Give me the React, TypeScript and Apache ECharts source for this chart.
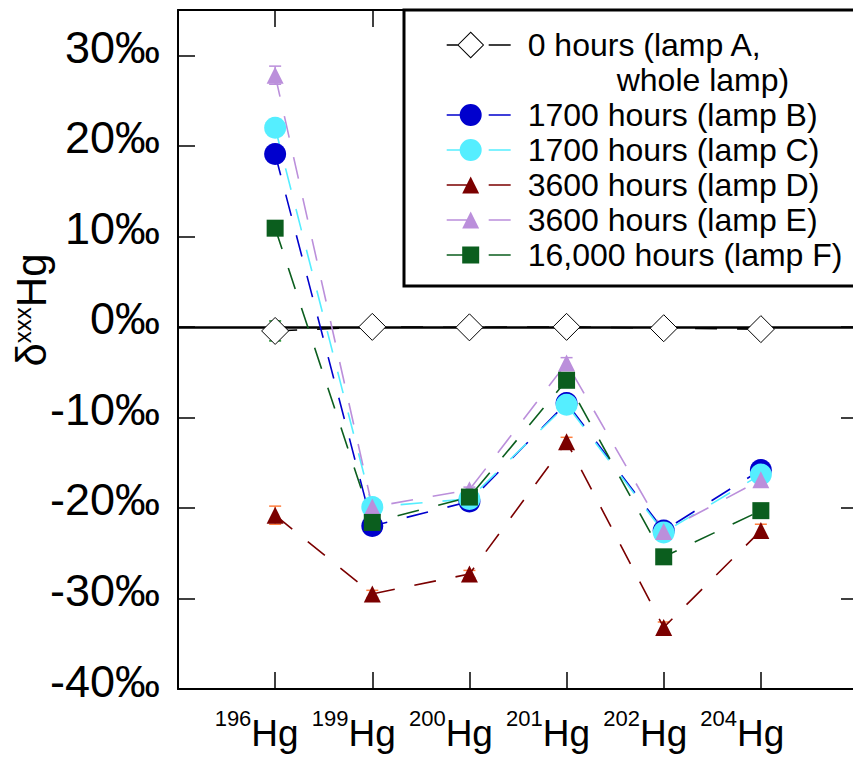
import React, { useEffect, useRef } from 'react';
import * as echarts from 'echarts';

// ---- data ----
const isotopes = ['196', '199', '200', '201', '202', '204'];
const yTicks = [-40, -30, -20, -10, 0, 10, 20, 30];
const seriesNames = [
  '0 hours (lamp A, whole lamp)',
  '1700 hours (lamp B)',
  '1700 hours (lamp C)',
  '3600 hours (lamp D)',
  '3600 hours (lamp E)',
  '16,000 hours (lamp F)',
];
const legendSecondLine = 'whole lamp)';
const lampA = [-0.45, 0.0, -0.05, 0.0, -0.15, -0.25];
const errA = [1.1, 0.15, 0.35, 0.4, 0.5, 0.7];
const lampB = [19.1, -22.0, -19.3, -8.4, -22.5, -15.8];
const lampC = [22.0, -19.9, -19.0, -8.6, -22.7, -16.3];
const lampD = [-20.8, -29.5, -27.3, -12.7, -33.2, -22.5];
const errD = [1.0, 0.4, 0.4, 0.5, 0.6, 0.7];
const lampE = [27.8, -19.9, -18.0, -4.0, -22.6, -16.9];
const errE = [1.0, 0.3, 0.3, 0.6, 0.3, 0.3];
const lampF = [10.9, -21.6, -18.8, -5.9, -25.4, -20.3];

const FONT = '"Liberation Sans", Arial, sans-serif';
const C_A = '#000000';
const C_B = '#0000CD';
const C_C = '#55EEFF';
const C_D = '#7B0000';
const C_E = '#BB8FDB';
const C_F = '#0B5E1E';
const C_ERR_A = '#118822';
const C_ERR_D = '#FF7F3F';

const positions = isotopes.map((_, i) => i + 1);
const pts = (vals: number[]) => vals.map((v, i) => [positions[i], v]);

// legend icons (76 x 28 box)
const BOX = 'M0 0L0 0.01M76 28L76 28.01';
const RDASH = 'M42 13.2H64V14.8H42Z';
const iconDiamond = 'path://' + BOX + 'M0 13.2H11V14.8H0Z' + RDASH +
  'M24 0.5L37.5 14L24 27.5L10.5 14Z M24 1.9L11.9 14L24 26.1L36.1 14Z';
const iconCircle = 'path://' + BOX + 'M0 13.2H13.5V14.8H0Z' + RDASH +
  'M13 14A11 11 0 1 1 35 14A11 11 0 1 1 13 14Z';
const iconTriangle = 'path://' + BOX + 'M0 13.2H20V14.8H0Z' + RDASH +
  'M24 5.5L32.5 22.5L15.5 22.5Z';
const iconSquare = 'path://' + BOX + 'M0 13.2H16V14.8H0Z' + RDASH +
  'M15.5 5.5H32.5V22.5H15.5Z';
const iconNone = 'path://' + BOX;

function lineSeries(name: string, vals: number[], color: string, symbol: string, size: number, extra: any = {}) {
  return {
    name,
    type: 'line',
    data: pts(vals),
    symbol,
    symbolSize: size,
    lineStyle: { color, width: 1.6, type: [22, 20] },
    itemStyle: { color, opacity: 1 },
    emphasis: { disabled: true },
    silent: true,
    ...extra,
  };
}

function errSeries(vals: number[], errs: number[], color: string, z: number) {
  return {
    type: 'custom',
    silent: true,
    z,
    data: vals.map((v, i) => [positions[i], v, errs[i]]),
    encode: { x: 0, y: 1 },
    renderItem: (_params: any, api: any) => {
      const x = api.value(0);
      const y = api.value(1);
      const e = api.value(2);
      const top = api.coord([x, y + e]);
      const bot = api.coord([x, y - e]);
      const hw = 6;
      const st = { stroke: color, lineWidth: 1.5 };
      return {
        type: 'group',
        children: [
          { type: 'line', shape: { x1: top[0], y1: top[1], x2: bot[0], y2: bot[1] }, style: st },
          { type: 'line', shape: { x1: top[0] - hw, y1: top[1], x2: top[0] + hw, y2: top[1] }, style: st },
          { type: 'line', shape: { x1: bot[0] - hw, y1: bot[1], x2: bot[0] + hw, y2: bot[1] }, style: st },
        ],
      };
    },
  };
}

const axisLineStyle = { show: true, onZero: false, lineStyle: { color: '#000', width: 2 } };
const axisTickStyle = { show: true, inside: true, length: 17, lineStyle: { color: '#000', width: 1.5 } };

export default function App() {
  const ref = useRef<HTMLDivElement>(null);
  useEffect(() => {
    if (!ref.current) return;
    const chart = echarts.init(ref.current, undefined, { renderer: 'svg' });
    const option: any = {
      animation: false,
      backgroundColor: '#ffffff',
      grid: { left: 178, top: 10, width: 680, height: 679, outerBoundsMode: 'none', containLabel: false },
      xAxis: [
        {
          type: 'value', min: 0, max: 7, interval: 1, position: 'bottom',
          axisLine: axisLineStyle, axisTick: axisTickStyle, splitLine: { show: false },
          axisLabel: {
            margin: 18,
            color: '#000',
            fontFamily: FONT,
            formatter: (v: number) => {
              const i = positions.indexOf(v);
              return i < 0 ? '' : `{s|${isotopes[i]}}{h|Hg}{p| }`;
            },
            rich: {
              s: { fontSize: 22, fontFamily: FONT, color: '#000', padding: [0, 0, 31, 0] },
              h: { fontSize: 37, fontFamily: FONT, color: '#000' },
              p: { fontSize: 22, width: 37 },
            },
          },
        },
        {
          type: 'value', min: 0, max: 7, interval: 1, position: 'top',
          axisLine: axisLineStyle, axisTick: axisTickStyle, splitLine: { show: false },
          axisLabel: { show: false },
        },
      ],
      yAxis: [
        {
          type: 'value', min: -40, max: 35, interval: 10, position: 'left',
          axisLine: axisLineStyle, axisTick: axisTickStyle, splitLine: { show: false },
          axisLabel: {
            fontSize: 45, fontFamily: FONT, color: '#000', margin: 18,
            verticalAlign: 'bottom', lineHeight: 16,
            formatter: (v: number) => (yTicks.indexOf(v) >= 0 ? `${v}‰` : ''),
          },
          name: '{d|δ}{x|xxx}{h|Hg}',
          nameLocation: 'middle',
          nameRotate: 90,
          nameGap: 126,
          nameMoveOverlap: false,
          nameTextStyle: {
            fontSize: 42,
            fontFamily: FONT,
            color: '#000',
            rich: {
              d: { fontSize: 42, fontFamily: FONT, color: '#000', padding: [0, 0, 0, 79] },
              x: { fontSize: 24, fontFamily: FONT, color: '#000', verticalAlign: 'top' },
              h: { fontSize: 42, fontFamily: FONT, color: '#000' },
            },
          },
        },
        {
          type: 'value', min: -40, max: 35, interval: 10, position: 'right',
          axisLine: axisLineStyle, axisTick: axisTickStyle, splitLine: { show: false },
          axisLabel: { show: false },
        },
      ],
      legend: {
        orient: 'vertical',
        left: 404,
        top: 10,
        padding: [17.5, 40, 13.5, 42.7],
        itemGap: 0,
        itemWidth: 76,
        itemHeight: 28,
        backgroundColor: '#ffffff',
        borderColor: '#000',
        borderWidth: 3,
        selectedMode: false,
        textStyle: {
          fontFamily: FONT, fontSize: 32, color: '#000', lineHeight: 35,
          rich: { w: { fontFamily: FONT, fontSize: 32, color: '#000', lineHeight: 35, padding: [0, 0, 0, 89] } },
        },
        formatter: (name: string) => {
          if (name === seriesNames[0]) return '0 hours (lamp A,';
          if (name === legendSecondLine) return `{w|${legendSecondLine}}`;
          return name;
        },
        data: [
          { name: seriesNames[0], icon: iconDiamond, itemStyle: { color: C_A, borderColor: C_A, borderWidth: 0 } },
          { name: legendSecondLine, icon: iconNone, itemStyle: { color: 'rgba(0,0,0,0)', borderWidth: 0 } },
          { name: seriesNames[1], icon: iconCircle, itemStyle: { color: C_B, borderColor: C_B, borderWidth: 0 } },
          { name: seriesNames[2], icon: iconCircle, itemStyle: { color: C_C, borderColor: C_C, borderWidth: 0 } },
          { name: seriesNames[3], icon: iconTriangle, itemStyle: { color: C_D, borderColor: C_D, borderWidth: 0 } },
          { name: seriesNames[4], icon: iconTriangle, itemStyle: { color: C_E, borderColor: C_E, borderWidth: 0 } },
          { name: seriesNames[5], icon: iconSquare, itemStyle: { color: C_F, borderColor: C_F, borderWidth: 0 } },
        ],
      },
      series: [
        lineSeries(seriesNames[0], lampA, C_A, 'diamond', 27, {
          itemStyle: { color: '#ffffff', borderColor: '#000', borderWidth: 1 },
          markLine: {
            silent: true, z: 1, symbol: ['none', 'none'], label: { show: false },
            lineStyle: { color: '#000', width: 2.5, type: 'solid' },
            emphasis: { disabled: true },
            data: [{ yAxis: 0 }],
          },
        }),
        errSeries(lampA, errA, C_ERR_A, 3),
        { name: legendSecondLine, type: 'line', data: [], silent: true },
        lineSeries(seriesNames[1], lampB, C_B, 'circle', 22),
        lineSeries(seriesNames[2], lampC, C_C, 'circle', 22),
        errSeries(lampD, errD, C_ERR_D, 2),
        lineSeries(seriesNames[3], lampD, C_D, 'triangle', 17),
        errSeries(lampE, errE, C_E, 2),
        lineSeries(seriesNames[4], lampE, C_E, 'triangle', 17),
        lineSeries(seriesNames[5], lampF, C_F, 'rect', 17),
      ],
    };
    chart.setOption(option);
    return () => chart.dispose();
  }, []);
  return (
    <div
      ref={ref}
      style={{ position: 'fixed', left: 0, top: 0, width: 853, height: 757, background: '#fff' }}
    />
  );
}
